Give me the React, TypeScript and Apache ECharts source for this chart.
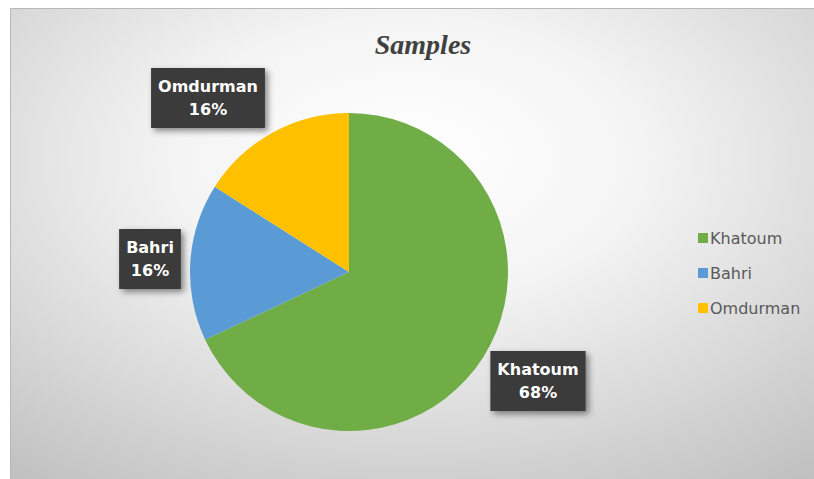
import React, { useEffect, useRef } from "react";
import * as echarts from "echarts";

const categories = ["Khatoum", "Bahri", "Omdurman"];
const values = [68, 16, 16];
const colors = ["#70AD47", "#5B9BD5", "#FFC000"];
const titleText = "Samples";

export default function App() {
  const ref = useRef<HTMLDivElement>(null);
  useEffect(() => {
    if (!ref.current) return;
    const chart = echarts.init(ref.current, undefined, { renderer: "svg" });
    const labelPos = [
      { x: 538, y: 381 },
      { x: 150, y: 259 },
      { x: 208, y: 98 },
    ];
    chart.setOption({
      animation: false,
      graphic: [
        {
          type: "rect",
          x: 10.5,
          y: 8.5,
          z: -10,
          shape: { width: 830, height: 500 },
          style: {
            fill: new echarts.graphic.RadialGradient(0.48, 0.3, 0.8, [
              { offset: 0, color: "#ffffff" },
              { offset: 0.35, color: "#f4f4f4" },
              { offset: 1, color: "#c0c0c0" },
            ]),
            stroke: "#b8b8b8",
            lineWidth: 1,
          },
        },
      ],
      title: {
        text: titleText,
        left: 418,
        textAlign: "center",
        top: 25,
        textStyle: {
          fontFamily: "Liberation Serif",
          fontStyle: "italic",
          fontWeight: "bold",
          fontSize: 28,
          color: "#404040",
        },
      },
      legend: {
        orient: "vertical",
        left: 693,
        top: 225,
        itemWidth: 10,
        itemHeight: 10,
        itemGap: 19,
        icon: "rect",
        textStyle: {
          fontFamily: "DejaVu Sans",
          fontSize: 16,
          color: "#595959",
          padding: [0, 0, 0, -3],
        },
        data: categories,
      },
      series: [
        {
          type: "pie",
          center: [349, 272],
          radius: 159,
          startAngle: 90,
          clockwise: true,
          itemStyle: { borderWidth: 0 },
          label: {
            show: true,
            formatter: "{b}\n{d}%",
            fontFamily: "DejaVu Sans",
            fontWeight: "bold",
            fontSize: 16,
            lineHeight: 23,
            color: "#ffffff",
            backgroundColor: "#3a3a3a",
            padding: [7, 7, 7, 7],
            align: "center",
            shadowColor: "rgba(0,0,0,0.45)",
            shadowBlur: 6,
            shadowOffsetX: 3,
            shadowOffsetY: 3,
          },
          labelLine: { show: false },
          labelLayout: (p: any) => ({
            x: labelPos[p.dataIndex].x,
            y: labelPos[p.dataIndex].y,
            align: "center",
            verticalAlign: "middle",
          }),
          emphasis: { disabled: true },
          data: categories.map((c, i) => ({
            name: c,
            value: values[i],
            itemStyle: { color: colors[i] },
          })),
        },
      ],
    });
    return () => chart.dispose();
  }, []);
  return (
    <div
      ref={ref}
      style={{ position: "absolute", left: 0, top: 0, width: 814, height: 479 }}
    />
  );
}
